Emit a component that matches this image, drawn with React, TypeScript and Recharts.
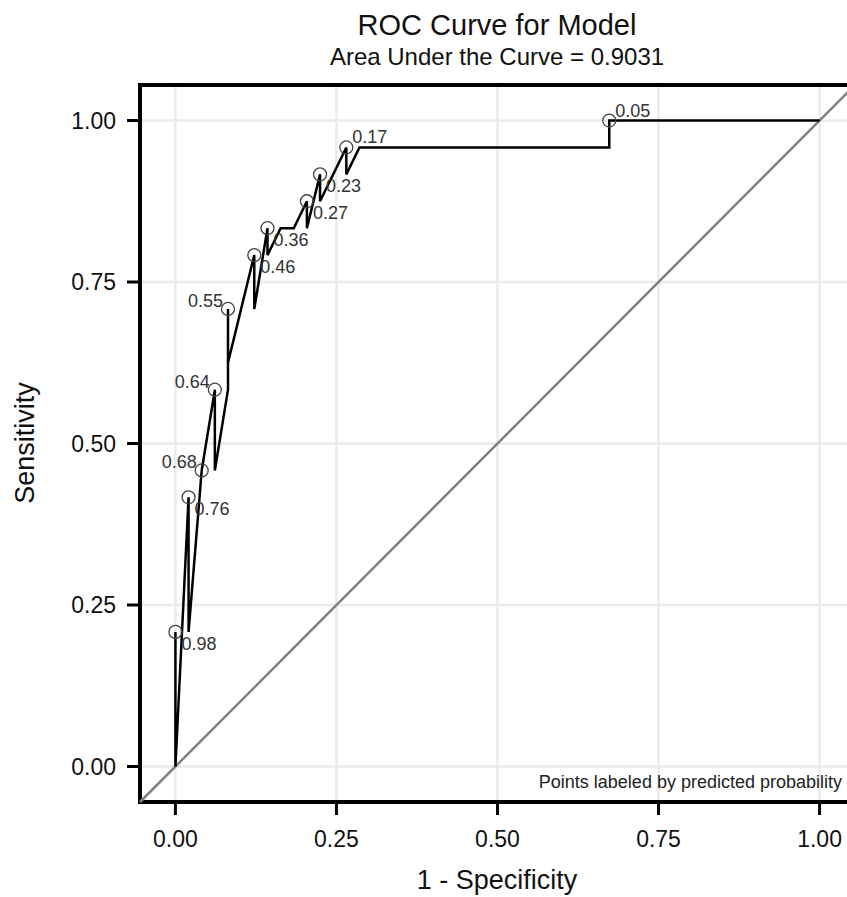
import React from "react";
import {
  ComposedChart,
  Line,
  Scatter,
  XAxis,
  YAxis,
  CartesianGrid,
  ReferenceLine,
  ReferenceArea,
} from "recharts";

// ROC path, in the order the points were plotted (1 - specificity, sensitivity)
const PATH_FPR = [
  0, 0, 0.0204, 0.0204, 0.0408, 0.0612, 0.0612, 0.0816, 0.0816, 0.0816, 0.1224, 0.1224, 0.1429,
  0.1429, 0.1633, 0.1837, 0.2041, 0.2041, 0.2245, 0.2245, 0.2653, 0.2653, 0.2857, 0.6735, 0.6735, 1,
];
const PATH_TPR = [
  0.2083, 0, 0.4167, 0.2083, 0.4583, 0.5833, 0.4583, 0.5833, 0.7083, 0.625, 0.7917, 0.7083, 0.8333,
  0.7917, 0.8333, 0.8333, 0.875, 0.8333, 0.9167, 0.875, 0.9583, 0.9167, 0.9583, 0.9583, 1, 1,
];

// points labeled by predicted probability
const LABEL_FPR = [0, 0.0204, 0.0408, 0.0612, 0.0816, 0.1224, 0.1429, 0.2041, 0.2245, 0.2653, 0.6735];
const LABEL_TPR = [0.2083, 0.4167, 0.4583, 0.5833, 0.7083, 0.7917, 0.8333, 0.875, 0.9167, 0.9583, 1];
const LABEL_TEXT = ["0.98", "0.76", "0.68", "0.64", "0.55", "0.46", "0.36", "0.27", "0.23", "0.17", "0.05"];

// where each label sits relative to its circle
const LABEL_SIDE: Record<string, "br" | "al" | "ar"> = {
  "0.98": "br",
  "0.76": "br",
  "0.68": "al",
  "0.64": "al",
  "0.55": "al",
  "0.46": "br",
  "0.36": "br",
  "0.27": "br",
  "0.23": "br",
  "0.17": "ar",
  "0.05": "ar",
};

const X_TICKS = [0, 0.25, 0.5, 0.75, 1];
const Y_TICKS = [0, 0.25, 0.5, 0.75, 1];
const DOMAIN: [number, number] = [-0.055, 1.055];

const FONT = '"Liberation Sans", Arial, sans-serif';

const pathData = PATH_FPR.map((x, i) => ({ x, y: PATH_TPR[i] }));
const labelData = LABEL_FPR.map((x, i) => ({ x, y: LABEL_TPR[i], label: LABEL_TEXT[i] }));

const LabeledPoint = (props: any) => {
  const { cx, cy, payload } = props;
  const side = LABEL_SIDE[payload.label];
  let tx = cx + 6;
  let ty = cy + 18;
  let anchor: "start" | "end" = "start";
  if (side === "al") {
    tx = cx - 5;
    ty = cy - 2;
    anchor = "end";
  } else if (side === "ar") {
    tx = cx + 6;
    ty = cy - 4;
  }
  return (
    <g>
      <circle cx={cx} cy={cy} r={6.5} fill="none" stroke="#444" strokeWidth={1.3} />
      <text x={tx} y={ty} textAnchor={anchor} fontSize={18} fill="#333" fontFamily={FONT}>
        {payload.label}
      </text>
    </g>
  );
};

const App: React.FC = () => {
  return (
    <div
      style={{
        position: "absolute",
        left: 0,
        top: 0,
        width: 847,
        height: 897,
        overflow: "hidden",
        background: "#fff",
        fontFamily: FONT,
      }}
    >
      <ComposedChart
        width={870}
        height={897}
        margin={{ top: 85, right: 15, bottom: 35, left: 60 }}
      >
        <CartesianGrid stroke="#ebebeb" strokeWidth={2.5} />
        <XAxis
          dataKey="x"
          type="number"
          domain={DOMAIN}
          ticks={X_TICKS}
          allowDataOverflow
          tickFormatter={(v: number) => v.toFixed(2)}
          axisLine={false}
          tickLine={{ stroke: "#000", strokeWidth: 3 }}
          tickSize={13}
          tickMargin={16}
          height={60}
          tick={{ fontSize: 23, fill: "#111", fontFamily: FONT }}
        />
        <YAxis
          dataKey="y"
          type="number"
          domain={DOMAIN}
          ticks={Y_TICKS}
          allowDataOverflow
          tickFormatter={(v: number) => v.toFixed(2)}
          axisLine={false}
          tickLine={{ stroke: "#000", strokeWidth: 3 }}
          tickSize={13}
          tickMargin={11}
          width={80}
          tick={{ fontSize: 23, fill: "#111", fontFamily: FONT }}
        />
        <ReferenceLine
          segment={[
            { x: DOMAIN[0], y: DOMAIN[0] },
            { x: DOMAIN[1], y: DOMAIN[1] },
          ]}
          stroke="#808080"
          strokeWidth={2.5}
          ifOverflow="visible"
        />
        <Line
          data={pathData}
          dataKey="y"
          type="linear"
          stroke="#000"
          strokeWidth={2.5}
          dot={false}
          isAnimationActive={false}
        />
        <Scatter data={labelData} dataKey="y" shape={LabeledPoint} isAnimationActive={false} />
        <ReferenceArea
          x1={DOMAIN[0]}
          x2={DOMAIN[1]}
          y1={DOMAIN[0]}
          y2={DOMAIN[1]}
          fill="none"
          fillOpacity={0}
          stroke="#000"
          strokeWidth={4}
          ifOverflow="visible"
        />
      </ComposedChart>
      <svg
        width={847}
        height={897}
        style={{ position: "absolute", left: 0, top: 0, pointerEvents: "none" }}
      >
        <text x={497} y={35} textAnchor="middle" fontSize={29} fill="#111">
          ROC Curve for Model
        </text>
        <text x={497} y={65} textAnchor="middle" fontSize={24} fill="#111">
          Area Under the Curve = 0.9031
        </text>
        <text x={497} y={889} textAnchor="middle" fontSize={27} fill="#111">
          1 - Specificity
        </text>
        <text
          x={0}
          y={0}
          transform="translate(34,443) rotate(-90)"
          textAnchor="middle"
          fontSize={27}
          fill="#111"
        >
          Sensitivity
        </text>
        <text x={842} y={788} textAnchor="end" fontSize={18} fill="#222">
          Points labeled by predicted probability
        </text>
      </svg>
    </div>
  );
};

export default App;
